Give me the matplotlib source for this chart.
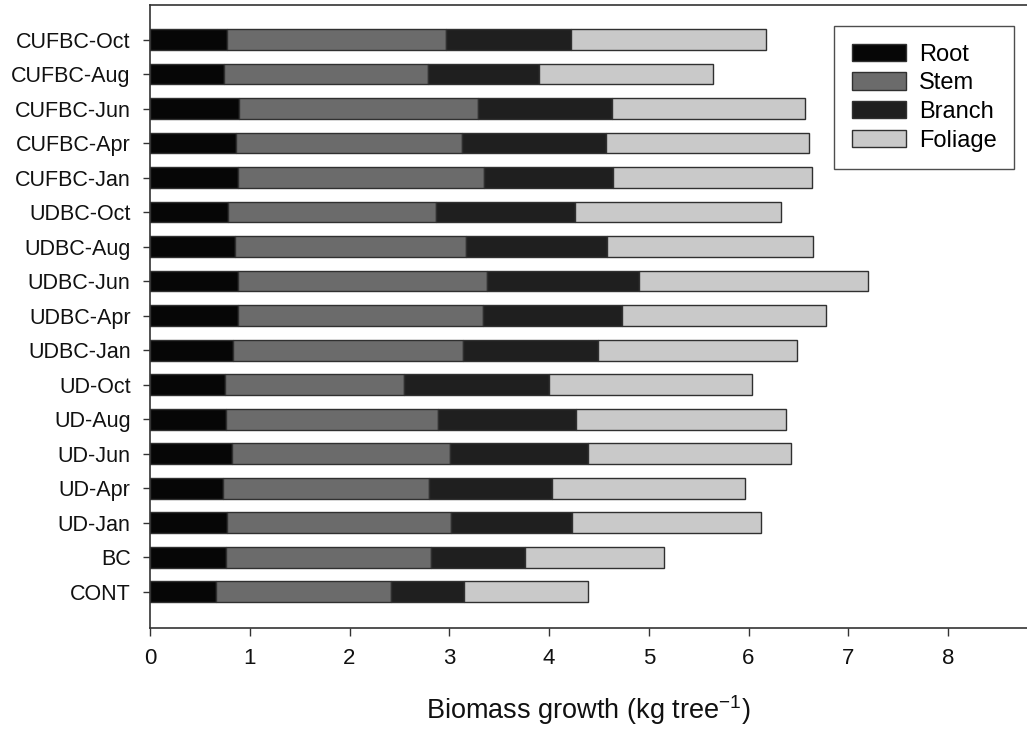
import matplotlib
matplotlib.use("Agg")
import matplotlib.pyplot as plt
import numpy as np

plt.rcParams['font.family'] = ['Liberation Sans', 'DejaVu Sans']

# Treatments, bottom to top
categories = ["CONT", "BC", "UD-Jan", "UD-Apr", "UD-Jun", "UD-Aug", "UD-Oct",
              "UDBC-Jan", "UDBC-Apr", "UDBC-Jun", "UDBC-Aug", "UDBC-Oct",
              "CUFBC-Jan", "CUFBC-Apr", "CUFBC-Jun", "CUFBC-Aug", "CUFBC-Oct"]

# Biomass growth per component (kg tree^-1)
root    = [0.66, 0.76, 0.77, 0.73, 0.82, 0.76, 0.75,
           0.83, 0.88, 0.88, 0.85, 0.78,
           0.88, 0.86, 0.89, 0.74, 0.77]
stem    = [1.76, 2.06, 2.25, 2.07, 2.19, 2.13, 1.80,
           2.31, 2.46, 2.50, 2.32, 2.09,
           2.47, 2.27, 2.40, 2.05, 2.20]
branch  = [0.73, 0.94, 1.21, 1.23, 1.38, 1.38, 1.45,
           1.35, 1.39, 1.52, 1.41, 1.39,
           1.29, 1.44, 1.34, 1.11, 1.25]
foliage = [1.24, 1.39, 1.90, 1.93, 2.04, 2.11, 2.04,
           2.00, 2.05, 2.30, 2.07, 2.07,
           2.00, 2.04, 1.94, 1.74, 1.96]

components = [("Root", root, "#060606"),
              ("Stem", stem, "#6b6b6b"),
              ("Branch", branch, "#1f1f1f"),
              ("Foliage", foliage, "#c9c9c9")]

fig = plt.figure(figsize=(10.27, 7.31), dpi=100)
ax = fig.add_axes([150 / 1027, 1 - 628 / 731, 877 / 1027, 623 / 731])

y = np.arange(len(categories))
left = np.zeros(len(categories))
for name, vals, color in components:
    vals = np.array(vals)
    ax.barh(y, vals, left=left, height=0.6, color=color,
            edgecolor="#303030", linewidth=1.0, label=name)
    left += vals

ax.set_xlim(0, 877 / 99.75)
ax.set_ylim(-1.05, 17.0)
ax.set_xticks(np.arange(0, 9))
ax.set_yticks(y)
ax.set_yticklabels(categories)
ax.tick_params(axis='both', direction='out', width=1.0, color="#333333",
               labelcolor="#111111")
ax.tick_params(axis='y', labelsize=15.5, length=5, pad=9)
ax.tick_params(axis='x', labelsize=16, length=5.5, pad=9)
for side in ("left", "bottom", "top"):
    ax.spines[side].set_color("#333333")
    ax.spines[side].set_linewidth(1.2)
ax.spines["right"].set_visible(False)

ax.set_xlabel("Biomass growth (kg tree$^{\\mathregular{-1}}$)", fontsize=19.5,
              labelpad=17, color="#111111")

leg = ax.legend(loc="upper left", bbox_to_anchor=(834 / 1027, 1 - 26 / 731),
                bbox_transform=fig.transFigure, fontsize=17, frameon=True,
                fancybox=False, edgecolor="#222222", handlelength=2.3,
                handleheight=0.76, labelspacing=0.28, borderpad=0.75,
                handletextpad=0.55, borderaxespad=0)
leg.get_frame().set_linewidth(1.0)

fig.savefig("out.png", dpi=100)
